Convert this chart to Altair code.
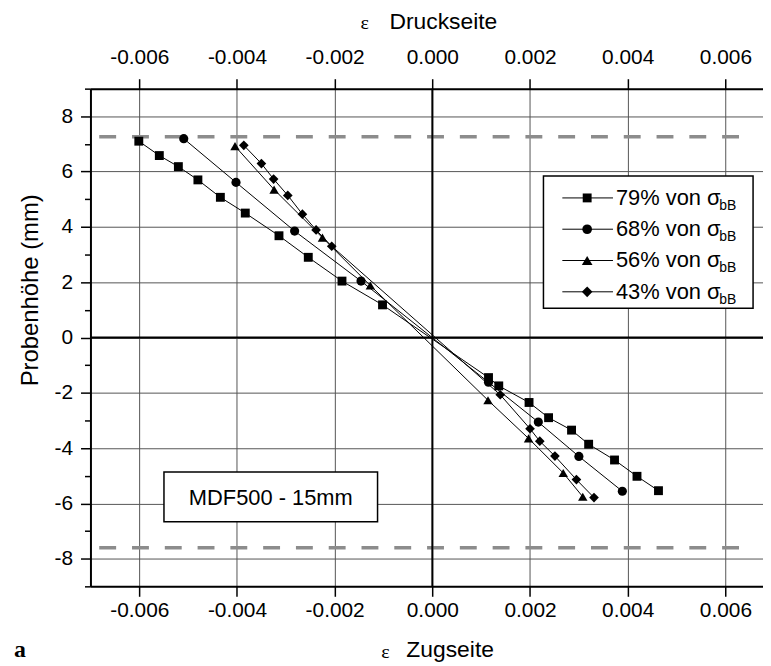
import altair as alt
import pandas as pd

# ---- data ----
series_names = ["79%", "68%", "56%", "43%"]
series_shapes = ["square", "circle", "triangle-up", "diamond"]
series_sizes = [80, 95, 115, 115]

sq_x = [-0.00601, -0.00559, -0.00520, -0.00480, -0.00434, -0.00383, -0.00314, -0.00254, -0.00185, -0.00102,
        0.00115, 0.00136, 0.00198, 0.00238, 0.00285, 0.00320, 0.00373, 0.00419, 0.00463]
sq_y = [7.10, 6.58, 6.18, 5.70, 5.07, 4.50, 3.68, 2.90, 2.04, 1.18,
        -1.45, -1.75, -2.35, -2.90, -3.35, -3.86, -4.43, -5.02, -5.54]
ci_x = [-0.00509, -0.00402, -0.00282, -0.00146, 0.00115, 0.00217, 0.00300, 0.00389]
ci_y = [7.19, 5.61, 3.85, 2.04, -1.62, -3.06, -4.30, -5.56]
tr_x = [-0.00404, -0.00324, -0.00225, -0.00127, 0.00114, 0.00197, 0.00268, 0.00308]
tr_y = [6.92, 5.35, 3.61, 1.88, -2.27, -3.65, -4.90, -5.76]
di_x = [-0.00386, -0.00350, -0.00325, -0.00296, -0.00266, -0.00238, -0.00206,
        0.00139, 0.00200, 0.00220, 0.00251, 0.00295, 0.00331]
di_y = [6.95, 6.29, 5.73, 5.14, 4.46, 3.89, 3.30,
        -2.07, -3.30, -3.75, -4.29, -5.14, -5.79]

x_ticks = [-0.006, -0.004, -0.002, 0.0, 0.002, 0.004, 0.006]
y_ticks = [-8, -6, -4, -2, 0, 2, 4, 6, 8]
y_minor = [-9, -7, -5, -3, -1, 1, 3, 5, 7, 9]
dash_y = [7.26, -7.60]
dash_x_start = -0.00682
dash_x_end = 0.00654
x_domain = [-0.007, 0.00677]
y_domain = [-9, 9]

legend_labels = ["79% von σ", "68% von σ", "56% von σ", "43% von σ"]
annotation = "MDF500 - 15mm"

# ---- build tables ----
rows = []
for name, xs, ys in zip(series_names, [sq_x, ci_x, tr_x, di_x], [sq_y, ci_y, tr_y, di_y]):
    for i, (a, b) in enumerate(zip(xs, ys)):
        rows.append({"x": a, "y": b, "series": name, "idx": i})
df = pd.DataFrame(rows)
dash_df = pd.DataFrame({"y": dash_y, "x": [dash_x_start] * len(dash_y), "x2": [dash_x_end] * len(dash_y)})
zero_df = pd.DataFrame({"v": [0.0]})
one = pd.DataFrame({"d": [0]})

W, H = 677, 501
OX, OY = 91, 87  # page position of plot origin


def px(v):
    return v - OX


def py(v):
    return v - OY


FONT = "Liberation Sans"
SERIF = "Liberation Serif"

xs = alt.Scale(domain=x_domain, nice=False, zero=False)
ys = alt.Scale(domain=y_domain, nice=False, zero=False)

xlab = "(datum.value < 0 ? '-' : '') + format(abs(datum.value), '.3f')"
ylab = "(datum.value < 0 ? '-' : '') + format(abs(datum.value), 'd')"

axis_common = dict(
    labelFont=FONT, labelFontSize=21, labelColor="black", tickColor="black", tickWidth=1.5,
    domainColor="black", domainWidth=2, title=None,
)

x_bottom = alt.Axis(orient="bottom", values=x_ticks, labelExpr=xlab, tickSize=10, labelPadding=3,
                    grid=True, gridColor="#555555", gridWidth=1, **axis_common)
x_top = alt.Axis(orient="top", values=x_ticks, labelExpr=xlab, tickSize=10, labelPadding=11,
                 grid=False, **axis_common)
y_left = alt.Axis(orient="left", values=y_ticks, labelExpr=ylab, tickSize=10, labelPadding=8,
                  grid=True, gridColor="#555555", gridWidth=1, **axis_common)
y_minor_ax = alt.Axis(orient="left", values=y_minor, labels=False, tickSize=6, tickColor="black",
                      tickWidth=1.5, domain=False, grid=False, title=None)

shape_scale = alt.Scale(domain=series_names, range=series_shapes)
size_scale = alt.Scale(domain=series_names, range=series_sizes)

lines = alt.Chart(df).mark_line(color="black", strokeWidth=1).encode(
    x=alt.X("x:Q", scale=xs, axis=x_bottom),
    y=alt.Y("y:Q", scale=ys, axis=y_left),
    detail="series:N",
    order="idx:Q",
)

dashes = alt.Chart(dash_df).mark_rule(color="#8c8c8c", strokeWidth=3.5, strokeDash=[17, 16]).encode(
    x=alt.X("x:Q", scale=xs, axis=x_top),
    x2="x2:Q",
    y=alt.Y("y:Q", scale=ys, axis=y_minor_ax),
)

zero_v = alt.Chart(zero_df).mark_rule(color="black", strokeWidth=2).encode(
    x=alt.X("v:Q", scale=xs, axis=None))
zero_h = alt.Chart(zero_df).mark_rule(color="black", strokeWidth=2).encode(
    y=alt.Y("v:Q", scale=ys, axis=None))

points = alt.Chart(df).mark_point(filled=True, color="black", opacity=1).encode(
    x=alt.X("x:Q", scale=xs, axis=None),
    y=alt.Y("y:Q", scale=ys, axis=None),
    shape=alt.Shape("series:N", scale=shape_scale, legend=None),
    size=alt.Size("series:N", scale=size_scale, legend=None),
)

layers = [lines, dashes, zero_v, zero_h, points]

# annotation box
layers.append(alt.Chart(one).mark_rect(fill="white", stroke="black", strokeWidth=1.5).encode(
    x=alt.value(px(165)), x2=alt.value(px(380)), y=alt.value(py(473)), y2=alt.value(py(523))))
layers.append(alt.Chart(one).mark_text(text=annotation, font=FONT, fontSize=22, align="center",
                                       baseline="middle", color="black").encode(
    x=alt.value(px(272.5)), y=alt.value(py(499))))

# legend box
layers.append(alt.Chart(one).mark_rect(fill="white", stroke="black", strokeWidth=1.5).encode(
    x=alt.value(px(547)), x2=alt.value(px(758)), y=alt.value(py(175)), y2=alt.value(py(308))))
row_y = [197, 228.5, 260, 291.5]
for lab, shp, sz, ry in zip(legend_labels, series_shapes, series_sizes, row_y):
    layers.append(alt.Chart(one).mark_rule(color="black", strokeWidth=1).encode(
        x=alt.value(px(566)), x2=alt.value(px(617)), y=alt.value(py(ry))))
    layers.append(alt.Chart(one).mark_point(shape=shp, filled=True, color="black", opacity=1, size=sz).encode(
        x=alt.value(px(591)), y=alt.value(py(ry))))
    layers.append(alt.Chart(one).mark_text(text=lab, font=FONT, fontSize=22, align="left",
                                           baseline="middle", color="black").encode(
        x=alt.value(px(620)), y=alt.value(py(ry))))
    layers.append(alt.Chart(one).mark_text(text="bB", font=FONT, fontSize=14, align="left",
                                           baseline="middle", color="black").encode(
        x=alt.value(px(724)), y=alt.value(py(ry + 8))))

# axis titles
layers.append(alt.Chart(one).mark_text(text="ε", font=SERIF, fontSize=20, align="center",
                                       baseline="alphabetic", color="black").encode(
    x=alt.value(px(367)), y=alt.value(py(27))))
layers.append(alt.Chart(one).mark_text(text="Druckseite", font=FONT, fontSize=23, align="left",
                                       baseline="alphabetic", color="black").encode(
    x=alt.value(px(392)), y=alt.value(py(27))))
layers.append(alt.Chart(one).mark_text(text="ε", font=SERIF, fontSize=20, align="center",
                                       baseline="middle", color="black").encode(
    x=alt.value(px(388)), y=alt.value(py(654))))
layers.append(alt.Chart(one).mark_text(text="Zugseite", font=FONT, fontSize=23, align="left",
                                       baseline="middle", color="black").encode(
    x=alt.value(px(409)), y=alt.value(py(652))))
layers.append(alt.Chart(one).mark_text(text="Probenhöhe (mm)", font=FONT, fontSize=24, align="center",
                                       baseline="middle", angle=270, color="black").encode(
    x=alt.value(px(31)), y=alt.value(py(290))))
layers.append(alt.Chart(one).mark_text(text="a", font=SERIF, fontSize=24, fontWeight="bold", align="center",
                                       baseline="middle", color="black").encode(
    x=alt.value(px(20)), y=alt.value(py(652))))

chart = alt.layer(*layers).resolve_axis(x="independent", y="independent").properties(
    width=W, height=H,
    autosize=alt.AutoSizeParams(type="none"),
    padding={"left": 83, "top": 79, "right": 0, "bottom": 79},
).configure_view(stroke=None).configure(background="white")

chart.save("out.html", embed_options={"renderer": "svg", "actions": False})
